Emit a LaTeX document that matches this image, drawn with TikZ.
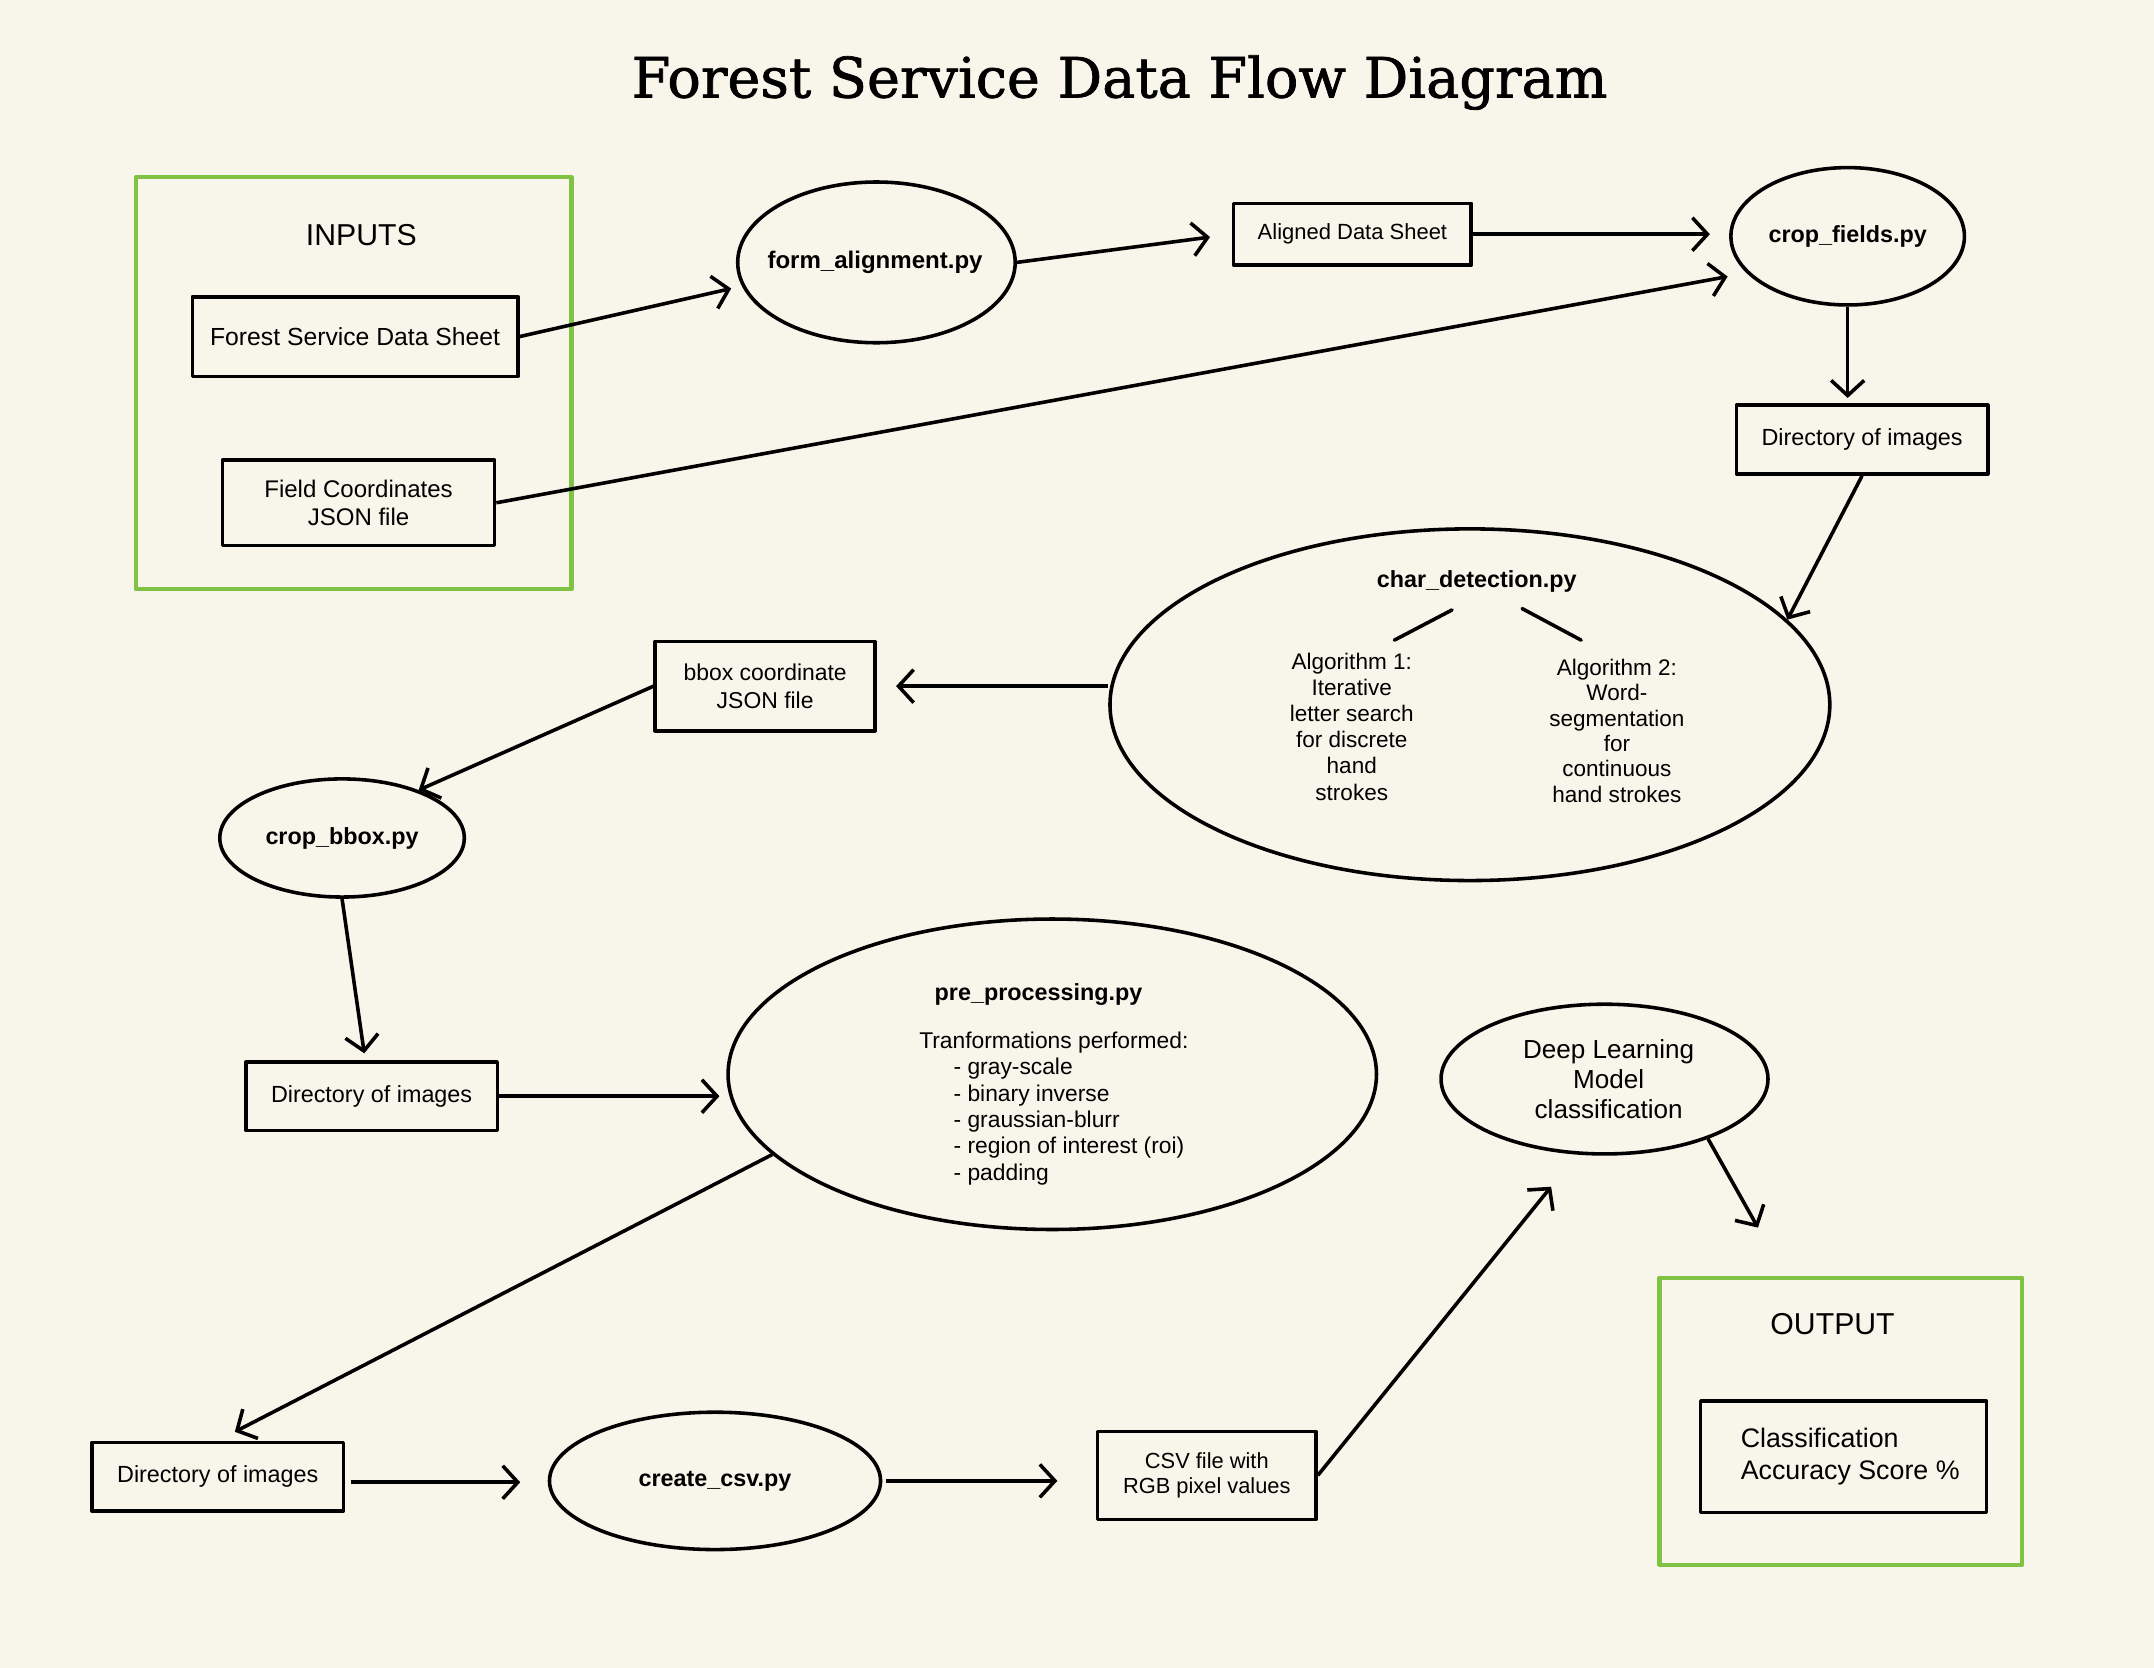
\documentclass[tikz,border=0pt]{standalone}
\usepackage{fontspec}
\setmainfont{Liberation Sans}
\newfontfamily\titlefont[FakeBold=1.3]{DejaVu Serif}
\usetikzlibrary{shapes.geometric,arrows.meta,calc}
\definecolor{bgc}{RGB}{248,246,234}
\definecolor{framec}{RGB}{128,194,67}
\newcommand\fs[2]{\fontsize{#1}{#2}\selectfont}
\begin{document}
\begin{tikzpicture}[x=1pt,y=-1pt, line join=round,
  box/.style={draw=black, line width=2.6pt, rectangle, inner sep=0pt, align=center},
  oval/.style={draw=black, line width=2.6pt, ellipse, inner sep=0pt, align=center},
  group/.style={draw=framec, line width=3pt, rectangle, inner sep=0pt},
  lbl/.style={inner sep=0pt, align=center},
  arr/.style={line width=2.6pt, -{Straight Barb[length=11pt,width=24pt]}},
  conn/.style={line width=2.6pt, line cap=round}]
\fill[bgc] (0,0) rectangle (1568,1214);
\useasboundingbox (0,0) rectangle (1568,1214);

% title
\node[lbl, font=\titlefont\fs{40.5}{43}, anchor=base] (title) at (815,71) {Forest Service Data Flow Diagram};

% inputs
\node[group, minimum width=317pt, minimum height=300pt] (inputs) at (257.5,279) {};
\node[lbl, font=\fs{22}{26}] (inlbl) at (263,171) {INPUTS};
\node[box, minimum width=237pt, minimum height=58pt, font=\fs{18}{21}] (fsds) at (258.5,245) {Forest Service Data Sheet};
\node[box, minimum width=198pt, minimum height=62pt, font=\fs{17.5}{20}] (field) at (261,366) {Field Coordinates\\JSON file};

% top row
\node[oval, minimum width=202pt, minimum height=117pt] (form) at (638,191) {};
\node[lbl, font=\bfseries\fs{17.5}{20}] (formtext) at (637,191) {form\_alignment.py};
\node[box, minimum width=173pt, minimum height=45pt, font=\fs{16}{19}] (aligned) at (984.5,170.5) {Aligned Data Sheet};
\node[oval, minimum width=170pt, minimum height=100pt, font=\bfseries\fs{17}{20}] (crop) at (1345,172) {crop\_fields.py};
\node[box, minimum width=183pt, minimum height=50pt, font=\fs{17}{20}] (dir1) at (1355.5,320) {Directory of images};

% char detection
\node[oval, minimum width=524pt, minimum height=256pt] (char) at (1070,513) {};
\node[lbl, font=\bfseries\fs{17}{20}] (chartitle) at (1075,423) {char\_detection.py};
\node[lbl, font=\fs{16.4}{19}] (alg1) at (984,529) {Algorithm 1:\\Iterative\\letter search\\for discrete\\hand\\strokes};
\node[lbl, font=\fs{16.4}{18.5}] (alg2) at (1177,532) {Algorithm 2:\\Word-\\segmentation\\for\\continuous\\hand strokes};
\coordinate (l1a) at (1057,444);
\coordinate (l1b) at (1015,466);
\coordinate (l2a) at (1108,443);
\coordinate (l2b) at (1151,466);
\draw[conn] (l1a) -- (l1b);
\draw[conn] (l2a) -- (l2b);

\node[box, minimum width=160pt, minimum height=65pt, font=\fs{16.7}{20}] (bbox) at (557,499.5) {bbox coordinate\\JSON file};
\node[oval, minimum width=178pt, minimum height=86pt, font=\bfseries\fs{17}{20}] (cbbox) at (249,610) {crop\_bbox.py};
\node[box, minimum width=183pt, minimum height=50pt, font=\fs{17}{20}] (dir2) at (270.5,798) {Directory of images};

% pre processing
\node[oval, minimum width=472pt, minimum height=226pt] (pre) at (766,782) {};
\node[lbl, font=\bfseries\fs{17}{20}] (pretitle) at (756,724) {pre\_processing.py};
\node[lbl, align=left, anchor=north west, font=\fs{16.6}{19.2}] (pretext) at (669,751) {Tranformations performed:\\\hspace*{25pt}- gray-scale\\\hspace*{25pt}- binary inverse\\\hspace*{25pt}- graussian-blurr\\\hspace*{25pt}- region of interest (roi)\\\hspace*{25pt}- padding};

% deep learning
\node[oval, minimum width=238pt, minimum height=109pt] (deep) at (1168,785.5) {};
\node[lbl, font=\fs{19}{22}] (deeptext) at (1171,785.5) {Deep Learning\\Model\\classification};

% output
\node[group, minimum width=264pt, minimum height=209pt] (outbox) at (1340,1034.5) {};
\node[lbl, font=\fs{22}{26}] (outlbl) at (1334,964) {OUTPUT};
\node[box, minimum width=208pt, minimum height=81pt] (classbox) at (1342,1060.5) {};
\node[lbl, align=left, anchor=west, font=\fs{19.5}{23}] (classtext) at (1267,1060.5) {Classification\\Accuracy Score \%};

% bottom row
\node[box, minimum width=183pt, minimum height=50pt, font=\fs{17}{20}] (dir3) at (158.5,1075) {Directory of images};
\node[oval, minimum width=241pt, minimum height=100pt, font=\bfseries\fs{17}{20}] (create) at (520.5,1078) {create\_csv.py};
\node[box, minimum width=159pt, minimum height=64pt, font=\fs{15.9}{18.5}] (csv) at (878.5,1074) {CSV file with\\RGB pixel values};

% connectors
\draw[arr, shorten >=8pt] (fsds.east) -- (form.190);
\draw[arr, shorten >=16pt] (form.east) -- (aligned.west);
\draw[arr, shorten >=14pt] (aligned.east) -- (aligned.east -| crop.west);
\draw[arr, shorten >=14pt] (field.east) -- (crop.200);
\draw[arr, shorten >=4pt] (crop.south) -- (crop.south |- dir1.north);
\draw[arr] (dir1.south) -- (char.15);
\draw[arr, shorten >=14pt] (char.west |- bbox.east) -- (bbox.east);
\draw[arr] (bbox.west) -- (cbbox.32);
\draw[arr, shorten >=5pt] (cbbox.south) -- (dir2.100);
\draw[arr, shorten >=5pt] (dir2.east) -- (dir2.east -| pre.west);
\draw[arr, shorten >=14pt] (pre.196) -- (dir3.north);
\draw[arr, shorten >=20pt, shorten <=4pt] ([yshift=-4pt]dir3.east) -- ([yshift=-4pt]dir3.east -| create.west);
\draw[arr, shorten >=28pt, shorten <=3pt] (create.east) -- (create.east -| csv.west);
\draw[arr, shorten >=30pt] (csv.east) -- (deep.250);
\draw[arr, shorten >=40pt] (deep.-30) -- (outbox.111);
\end{tikzpicture}
\end{document}
